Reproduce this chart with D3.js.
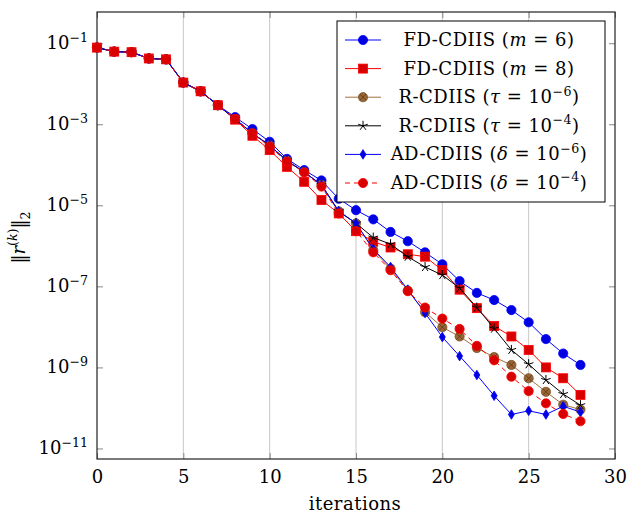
<!DOCTYPE html>
<html>
<head>
<meta charset="utf-8">
<script src="https://cdn.jsdelivr.net/npm/d3@7"></script>
<style>
  body { margin: 0; background: #fff; }
  text { font-family: "DejaVu Serif", serif; fill: #000; }
</style>
</head>
<body>
<script>
// iterations and residual norms
let iterations = d3.range(0, 29);

let fdM6 = [7.8e-2, 6.2e-2, 6.0e-2, 4.2e-2, 4.0e-2, 1.07e-2, 6.5e-3, 2.95e-3, 1.5e-3, 7.6e-4,
  3.7e-4, 1.4e-4, 7.4e-5, 4.1e-5, 1.45e-5, 7.6e-6, 4.5e-6, 2.2e-6, 1.3e-6, 6.9e-7,
  3.5e-7, 1.35e-7, 6.9e-8, 4.6e-8, 2.6e-8, 1.3e-8, 5.0e-9, 2.2e-9, 1.15e-9];
let fdM8 = [7.8e-2, 6.2e-2, 6.0e-2, 4.2e-2, 4.0e-2, 1.07e-2, 6.5e-3, 2.95e-3, 1.3e-3, 5.2e-4,
  2.3e-4, 8.9e-5, 3.8e-5, 1.35e-5, 6.3e-6, 2.3e-6, 1.26e-6, 9.1e-7, 6.2e-7, 5.4e-7,
  2.5e-7, 8.3e-8, 2.9e-8, 1.05e-8, 5.8e-9, 2.7e-9, 1.0e-9, 5.4e-10, 2.1e-10];
let rTau6 = [7.8e-2, 6.2e-2, 6.0e-2, 4.2e-2, 4.0e-2, 1.07e-2, 6.5e-3, 2.95e-3, 1.35e-3, 6.0e-4,
  3.0e-4, 1.26e-4, 6.6e-5, 3.2e-5, 7.1e-6, 3.6e-6, 7.9e-7, 2.75e-7, 7.9e-8, 2.3e-8,
  9.8e-9, 5.8e-9, 3.0e-9, 1.8e-9, 1.15e-9, 5.4e-10, 2.5e-10, 1.2e-10, 9.1e-11];
let rTau4 = [7.8e-2, 6.2e-2, 6.0e-2, 4.2e-2, 4.0e-2, 1.07e-2, 6.5e-3, 2.95e-3, 1.35e-3, 6.0e-4,
  3.0e-4, 1.26e-4, 6.6e-5, 3.2e-5, 7.1e-6, 3.6e-6, 1.6e-6, 1.1e-6, 5.4e-7, 3.0e-7,
  1.9e-7, 9.1e-8, 3.0e-8, 9.1e-9, 2.7e-9, 1.2e-9, 4.9e-10, 2.2e-10, 1.17e-10];
let adD6 = [7.8e-2, 6.2e-2, 6.0e-2, 4.2e-2, 4.0e-2, 1.07e-2, 6.5e-3, 2.95e-3, 1.35e-3, 6.0e-4,
  3.0e-4, 1.26e-4, 6.6e-5, 3.2e-5, 7.1e-6, 3.6e-6, 8.3e-7, 3.0e-7, 8.3e-8, 2.2e-8,
  5.6e-9, 1.9e-9, 6.5e-10, 2.0e-10, 6.9e-11, 8.5e-11, 6.9e-11, 1.1e-10, 7.9e-11];
let adD4 = [7.8e-2, 6.2e-2, 6.0e-2, 4.2e-2, 4.0e-2, 1.07e-2, 6.5e-3, 2.95e-3, 1.35e-3, 6.0e-4,
  2.8e-4, 1.2e-4, 6.5e-5, 2.9e-5, 6.3e-6, 2.3e-6, 6.9e-7, 2.5e-7, 7.6e-8, 3.0e-8,
  1.6e-8, 8.9e-9, 3.4e-9, 1.5e-9, 5.9e-10, 2.6e-10, 1.3e-10, 7.1e-11, 4.7e-11];

let xTicks = [0, 5, 10, 15, 20, 25, 30];
let yTickExps = [-1, -3, -5, -7, -9, -11];

let svgWidth = 628, svgHeight = 514;
let plotLeft = 97, plotRight = 615, plotTop = 12, plotBottom = 459;

let svg = d3.select('body').append('svg')
svg.attr('width', svgWidth).attr('height', svgHeight)

let xScale = d3.scaleLinear().domain([0, 30]).range([plotLeft, plotRight])
let yScale = d3.scaleLog()
  .domain([Math.pow(10, -11.26), Math.pow(10, -0.23)])
  .range([plotBottom, plotTop])

// rich text helper: parts with italic / sup / sub
function addRich(textSel, parts, size) {
  let shift = 0;
  parts.forEach(p => {
    let ts = textSel.append('tspan').text(p.t)
    let target = p.sup ? -0.42 * size : (p.sub ? 0.3 * size : 0)
    ts.attr('dy', target - shift)
    shift = target
    if (p.sup || p.sub) ts.attr('font-size', size * 0.7)
    if (p.it) ts.attr('font-style', 'italic')
  })
}

// vertical grid
svg.append('g').selectAll('line')
  .data(xTicks.filter(d => d > 0 && d < 30))
  .enter().append('line')
  .attr('x1', d => xScale(d)).attr('x2', d => xScale(d))
  .attr('y1', plotTop).attr('y2', plotBottom)
  .attr('stroke', '#c8c8c8').attr('stroke-width', 1)

// axes (inward ticks on all four sides)
let yTickVals = yTickExps.map(e => Math.pow(10, e))
let tickCol = '#888'

let xAxisB = svg.append('g').attr('transform', 'translate(0,' + plotBottom + ')')
  .call(d3.axisBottom(xScale).tickValues(xTicks).tickSize(-6).tickPadding(11).tickFormat(d3.format('d')))
let xAxisT = svg.append('g').attr('transform', 'translate(0,' + plotTop + ')')
  .call(d3.axisTop(xScale).tickValues(xTicks).tickSize(-6).tickFormat(''))
let yAxisL = svg.append('g').attr('transform', 'translate(' + plotLeft + ',0)')
  .call(d3.axisLeft(yScale).tickValues(yTickVals).tickSize(-6).tickFormat(''))
let yAxisR = svg.append('g').attr('transform', 'translate(' + plotRight + ',0)')
  .call(d3.axisRight(yScale).tickValues(yTickVals).tickSize(-6).tickFormat(''))

;[xAxisB, xAxisT, yAxisL, yAxisR].forEach(a => {
  a.select('.domain').remove()
  a.selectAll('.tick line').attr('stroke', tickCol)
})
xAxisB.selectAll('.tick text')
  .attr('font-size', 18).attr('font-family', '"DejaVu Serif", serif').attr('fill', '#000')

// y tick labels 10^e
svg.append('g').selectAll('text')
  .data(yTickExps)
  .enter().append('text')
  .attr('x', 88).attr('y', d => yScale(Math.pow(10, d)) + 6)
  .attr('text-anchor', 'end').attr('font-size', 18)
  .each(function (d) {
    addRich(d3.select(this), [{ t: '10' }, { t: '\u2212' + (-d), sup: true }], 18)
  })

// frame
svg.append('rect')
  .attr('x', plotLeft).attr('y', plotTop)
  .attr('width', plotRight - plotLeft).attr('height', plotBottom - plotTop)
  .attr('fill', 'none').attr('stroke', '#222').attr('stroke-width', 1.2)

// axis labels
svg.append('text').attr('x', (plotLeft + plotRight) / 2 - 1).attr('y', 510)
  .attr('text-anchor', 'middle').attr('font-size', 18).attr('letter-spacing', 0.5).text('iterations')

let yl = svg.append('text')
  .attr('transform', 'translate(25,' + ((plotTop + plotBottom) / 2 + 2) + ') rotate(-90)')
  .attr('text-anchor', 'middle').attr('font-size', 18)
addRich(yl, [{ t: '\u2016' }, { t: 'r', it: true }, { t: '(', sup: true }, { t: 'k', sup: true, it: true },
  { t: ')', sup: true }, { t: '\u2016' }, { t: '2', sub: true }], 18)

// markers
function drawMarker(g, type, x, y, col, fill) {
  if (type === 'circle') {
    g.append('circle').attr('cx', x).attr('cy', y).attr('r', 4.6)
      .attr('fill', fill).attr('stroke', col).attr('stroke-width', 0.8)
  } else if (type === 'square') {
    g.append('rect').attr('x', x - 4.5).attr('y', y - 4.5).attr('width', 9).attr('height', 9)
      .attr('fill', fill).attr('stroke', col).attr('stroke-width', 0.8)
  } else if (type === 'diamond') {
    g.append('path').attr('d', 'M' + x + ',' + (y - 4.8) + 'L' + (x + 3) + ',' + y + 'L' + x + ',' + (y + 4.8) + 'L' + (x - 3) + ',' + y + 'Z')
      .attr('fill', fill).attr('stroke', col).attr('stroke-width', 0.8)
  } else if (type === 'otimes') {
    g.append('circle').attr('cx', x).attr('cy', y).attr('r', 4.6)
      .attr('fill', fill).attr('stroke', '#7a5229').attr('stroke-width', 0.8)
    let r = 3.2
    g.append('path').attr('d', 'M' + (x - r) + ',' + (y - r) + 'L' + (x + r) + ',' + (y + r) + 'M' + (x - r) + ',' + (y + r) + 'L' + (x + r) + ',' + (y - r))
      .attr('stroke', '#5a3a1a').attr('stroke-width', 0.8)
  } else if (type === 'star') {
    let d = ''
    for (let k = 0; k < 5; k++) {
      let a = -Math.PI / 2 + k * 2 * Math.PI / 5
      d += 'M' + x + ',' + y + 'L' + (x + 5 * Math.cos(a)) + ',' + (y + 5 * Math.sin(a))
    }
    g.append('path').attr('d', d).attr('stroke', col).attr('stroke-width', 1).attr('fill', 'none')
  }
}

let series = [
  { data: fdM6, col: '#0000ff', fill: '#0000e0', mark: 'circle', dash: null,
    label: [{ t: 'FD-CDIIS (' }, { t: 'm', it: true }, { t: ' = 6)' }] },
  { data: fdM8, col: '#ff0000', fill: '#d80000', mark: 'square', dash: null,
    label: [{ t: 'FD-CDIIS (' }, { t: 'm', it: true }, { t: ' = 8)' }] },
  { data: rTau6, col: '#a0703c', fill: '#996633', mark: 'otimes', dash: null,
    label: [{ t: 'R-CDIIS (' }, { t: '\u03c4', it: true }, { t: ' = 10' }, { t: '\u22126', sup: true }, { t: ')' }] },
  { data: rTau4, col: '#000000', fill: '#000000', mark: 'star', dash: null,
    label: [{ t: 'R-CDIIS (' }, { t: '\u03c4', it: true }, { t: ' = 10' }, { t: '\u22124', sup: true }, { t: ')' }] },
  { data: adD6, col: '#0000ff', fill: '#0000e0', mark: 'diamond', dash: null,
    label: [{ t: 'AD-CDIIS (' }, { t: '\u03b4', it: true }, { t: ' = 10' }, { t: '\u22126', sup: true }, { t: ')' }] },
  { data: adD4, col: '#ff0000', fill: '#d80000', mark: 'circle', dash: '5,4',
    label: [{ t: 'AD-CDIIS (' }, { t: '\u03b4', it: true }, { t: ' = 10' }, { t: '\u22124', sup: true }, { t: ')' }] }
]

let line = d3.line().x((d, i) => xScale(iterations[i])).y(d => yScale(d))

series.forEach(s => {
  let g = svg.append('g')
  g.append('path').attr('d', line(s.data))
    .attr('fill', 'none').attr('stroke', s.col).attr('stroke-width', 1)
    .attr('stroke-dasharray', s.dash)
  s.data.forEach((d, i) => drawMarker(g, s.mark, xScale(iterations[i]), yScale(d), s.col, s.fill))
})

// legend
let lg = svg.append('g')
lg.append('rect').attr('x', 337).attr('y', 21).attr('width', 268).attr('height', 181)
  .attr('fill', '#fff').attr('stroke', '#000').attr('stroke-width', 1)

series.forEach((s, i) => {
  let ry = 40 + i * 28.6
  lg.append('line').attr('x1', 345).attr('x2', 381).attr('y1', ry).attr('y2', ry)
    .attr('stroke', s.col).attr('stroke-width', 1).attr('stroke-dasharray', s.dash)
  drawMarker(lg, s.mark, 363, ry, s.col, s.fill)
  let t = lg.append('text').attr('x', 489).attr('y', ry + 6)
    .attr('text-anchor', 'middle').attr('font-size', 18).attr('letter-spacing', 0.5)
  addRich(t, s.label, 18)
})
</script>
</body>
</html>
